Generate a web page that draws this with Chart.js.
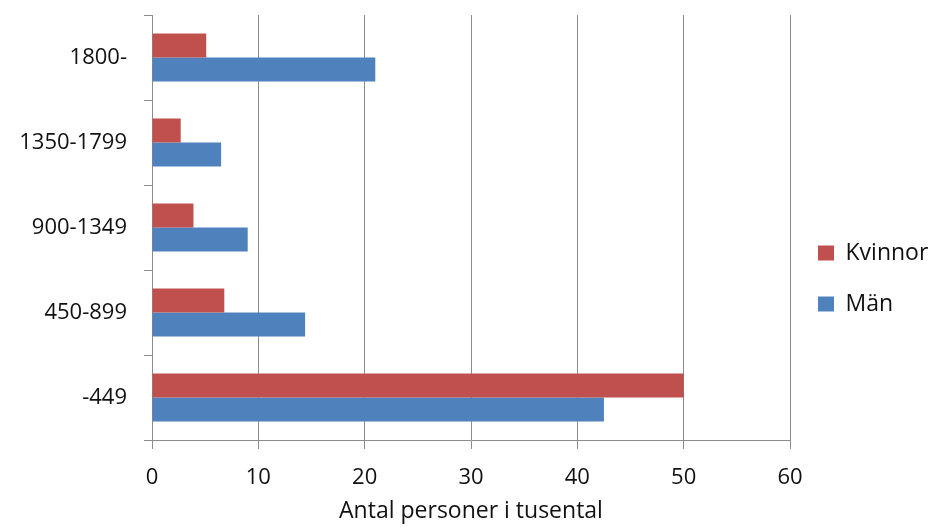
<!DOCTYPE html>
<html>
<head>
<meta charset="utf-8">
<script src="https://cdn.jsdelivr.net/npm/chart.js@4.4.1/dist/chart.umd.min.js"></script>
<style>
  html, body { margin: 0; padding: 0; background: #fff; }
  #wrap { width: 929px; height: 527px; }
</style>
</head>
<body>
<div id="wrap"><canvas id="chart" width="929" height="527"></canvas></div>
<script>
// ── Data ─────────────────────────────────
const categories = ['1800-', '1350-1799', '900-1349', '450-899', '-449'];
const kvinnor = [5.1, 2.7, 3.9, 6.8, 50.0];
const man = [21.0, 6.5, 9.0, 14.4, 42.5];
const xTicks = [0, 10, 20, 30, 40, 50, 60];
const axisTitle = 'Antal personer i tusental';

const gridColor = '#8c8c8c';
const textColor = '#111';

Chart.defaults.font.family = "'Open Sans', sans-serif";
Chart.defaults.color = textColor;

new Chart(document.getElementById('chart'), {
  type: 'bar',
  data: {
    labels: categories,
    datasets: [
      { label: 'Kvinnor', data: kvinnor, backgroundColor: '#c0504d', categoryPercentage: 0.565, barPercentage: 1 },
      { label: 'Män', data: man, backgroundColor: '#4f81bd', categoryPercentage: 0.565, barPercentage: 1 }
    ]
  },
  options: {
    indexAxis: 'y',
    responsive: false,
    animation: false,
    layout: { padding: { top: 0, left: 0, right: 0, bottom: 0 } },
    plugins: {
      tooltip: { enabled: false },
      legend: {
        position: 'right',
        maxWidth: 139,
        // empty title only nudges the legend items down a little
        title: { display: true, text: '', padding: 9, font: { size: 10 } },
        labels: { boxWidth: 16, boxHeight: 15, padding: 28, font: { size: 23 }, color: textColor }
      }
    },
    scales: {
      x: {
        min: xTicks[0],
        max: xTicks[xTicks.length - 1],
        afterFit: scale => { scale.height = 87; },
        ticks: { stepSize: xTicks[1] - xTicks[0], padding: 16, font: { size: 22 }, color: textColor },
        grid: { color: gridColor, tickLength: 9 },
        border: { color: gridColor },
        title: { display: true, text: axisTitle, font: { size: 23 }, color: textColor, padding: { top: 0, bottom: 2 } }
      },
      y: {
        afterFit: scale => { scale.width = 152; scale.paddingTop = 15; scale.paddingBottom = 0; },
        ticks: { padding: 17, font: { size: 22 }, color: textColor },
        grid: { drawOnChartArea: false, offset: true, color: gridColor, tickLength: 8 },
        border: { color: gridColor }
      }
    }
  }
});
</script>
</body>
</html>
